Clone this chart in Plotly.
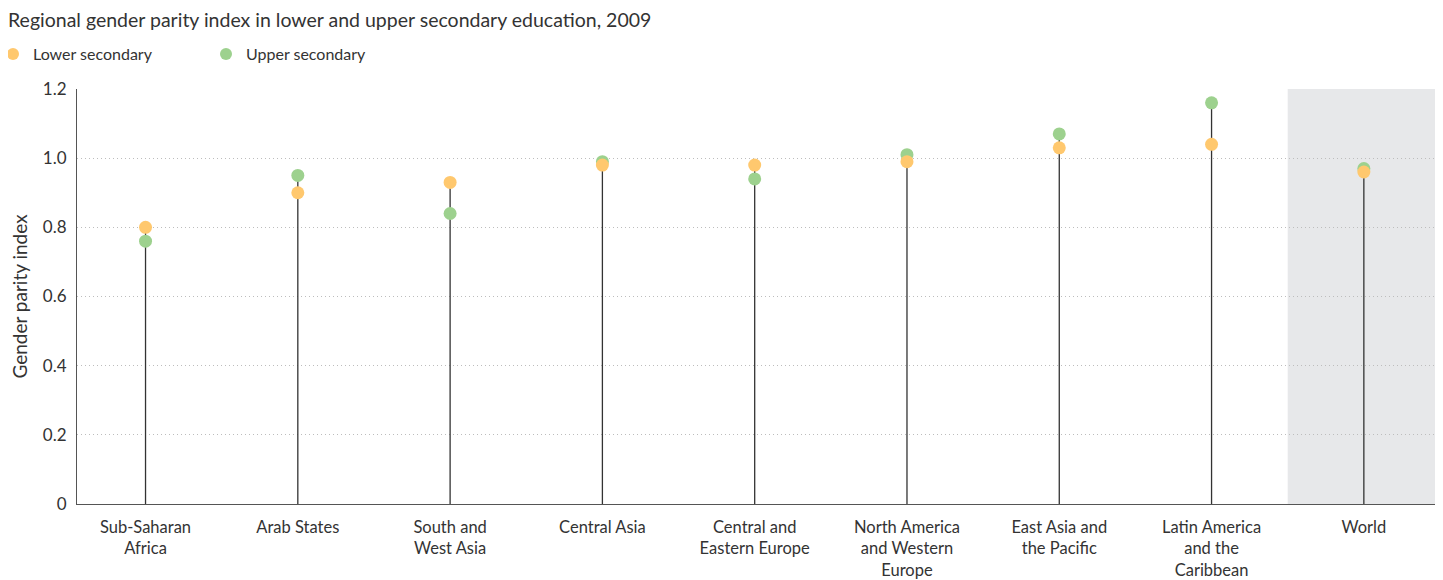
import plotly.graph_objects as go

regions = [
    "Sub-Saharan<br>Africa", "Arab States", "South and<br>West Asia", "Central Asia",
    "Central and<br>Eastern Europe", "North America<br>and Western<br>Europe",
    "East Asia and<br>the Pacific", "Latin America<br>and the<br>Caribbean", "World",
]
lower_secondary = [0.80, 0.90, 0.93, 0.98, 0.98, 0.99, 1.03, 1.04, 0.96]
upper_secondary = [0.76, 0.95, 0.84, 0.99, 0.94, 1.01, 1.07, 1.16, 0.97]
y_ticks = [0, 0.2, 0.4, 0.6, 0.8, 1.0, 1.2]
y_tick_labels = ["0", "0.2", "0.4", "0.6", "0.8", "1.0", "1.2"]

FONT = "Lato, 'Open Sans', sans-serif"
TEXT = "#333333"
x_idx = list(range(len(regions)))

# stems from zero up to the higher of the two dots
stem_x, stem_y = [], []
for i, lo, up in zip(x_idx, lower_secondary, upper_secondary):
    stem_x += [i, i, None]
    stem_y += [0, max(lo, up), None]

fig = go.Figure()
fig.add_trace(go.Scatter(
    x=stem_x, y=stem_y, mode="lines", line=dict(color="#333333", width=1.3),
    showlegend=False, hoverinfo="skip",
))
fig.add_trace(go.Scatter(
    x=x_idx, y=upper_secondary, mode="markers", name="Upper secondary",
    marker=dict(color="#9dd18e", size=13), legendrank=2,
))
fig.add_trace(go.Scatter(
    x=x_idx, y=lower_secondary, mode="markers", name="Lower secondary",
    marker=dict(color="#ffc86e", size=13), legendrank=1,
))

# grey band behind the World column
fig.add_shape(type="rect", xref="x", yref="y", x0=7.5, x1=8.5, y0=0, y1=1.2,
              fillcolor="#e7e8ea", line_width=0, layer="below")

# page body adds an 8px offset, so the figure is sized a little smaller
fig.update_layout(
    width=1435, height=572,
    paper_bgcolor="white", plot_bgcolor="white",
    font=dict(family=FONT, size=17, color=TEXT),
    title=dict(text="Regional gender parity index in lower and upper secondary education, 2009",
               x=0, xref="container", y=0.991, yref="container",
               xanchor="left", yanchor="top", font=dict(size=19.5, color=TEXT)),
    legend=dict(orientation="h", x=0, xref="container", y=0.9196, yref="container",
                xanchor="left", yanchor="middle", entrywidth=183, indentation=-15,
                font=dict(size=16, color=TEXT), itemsizing="constant"),
    margin=dict(l=69, r=3, t=81, b=76),
    xaxis=dict(
        tickmode="array", tickvals=x_idx, ticktext=regions, range=[-0.45, 8.5],
        showgrid=False, zeroline=False, showline=True, linecolor="#555555", linewidth=1,
        ticks="", ticklabelstandoff=8, tickfont=dict(size=16.5, color=TEXT), automargin=False,
    ),
    yaxis=dict(
        title=dict(text="Gender parity index", font=dict(size=19, color=TEXT), standoff=10),
        range=[0, 1.2], tickmode="array", tickvals=y_ticks, ticktext=y_tick_labels,
        showgrid=True, gridcolor="#bdbdbd", griddash="1px,3px", gridwidth=1,
        zeroline=False, showline=True, linecolor="#555555", linewidth=1,
        ticks="", ticklabelstandoff=6, tickfont=dict(size=17, color=TEXT), automargin=False,
    ),
    hovermode="closest",
)

fig.write_html("out.html")
